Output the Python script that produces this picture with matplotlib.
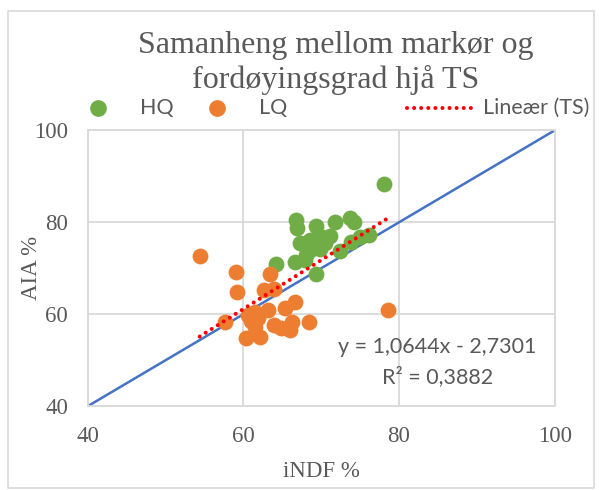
import matplotlib
matplotlib.use("Agg")
import matplotlib.pyplot as plt
import numpy as np
from matplotlib.lines import Line2D
from matplotlib.patches import Rectangle

# HQ samples (iNDF %, AIA %)
hq_x = [78.1, 64.2, 66.8, 66.9, 69.3, 71.8, 73.7, 74.2, 67.3, 68.6, 69.9, 71.1,
        68.6, 69.9, 66.6, 67.9, 69.4, 72.4, 73.9, 75.0, 76.1, 70.5, 68.0]
hq_y = [88.3, 70.9, 80.4, 78.8, 79.3, 80.1, 81.0, 80.0, 75.4, 76.2, 77.0, 77.0,
        74.0, 74.2, 71.4, 71.8, 68.8, 73.8, 75.8, 76.9, 77.2, 75.5, 73.0]

# LQ samples
lq_x = [54.4, 59.1, 59.2, 57.6, 63.4, 62.6, 63.9, 60.6, 61.5, 61.9, 63.2, 65.4,
        66.6, 63.9, 64.9, 66.0, 66.2, 68.4, 60.4, 62.1, 61.5, 78.6, 61.0]
lq_y = [72.7, 69.3, 64.9, 58.4, 68.7, 65.3, 65.6, 59.8, 60.5, 59.1, 60.9, 61.3,
        62.7, 57.7, 57.0, 56.6, 58.4, 58.4, 54.8, 55.1, 57.3, 60.9, 58.5]

# linear trend (TS) as reported
slope = 1.0644
intercept = -2.7301
r2 = 0.3882

green = "#70AD47"
orange = "#ED7D31"
red = "#FF0000"
grey_txt = "#595959"
dots = (0, (0.01, 1.75))

fig = plt.figure(figsize=(5.99, 4.90), dpi=100)
ax = fig.add_axes([0.1462, 0.1708, 0.7798, 0.5632])

# chart border
fig.patches.append(Rectangle((8 / 599, 2 / 490), 586 / 599, 477 / 490,
                             transform=fig.transFigure, fill=False,
                             edgecolor="#D9D9D9", linewidth=1.2))

ax.set_xlim(40, 100)
ax.set_ylim(40, 100)
ax.set_xticks([40, 60, 80, 100])
ax.set_yticks([40, 60, 80, 100])
ax.grid(True, color="#D9D9D9", linewidth=1.3)
ax.set_axisbelow(True)
for s in ax.spines.values():
    s.set_color("#D9D9D9")
    s.set_linewidth(1.3)
ax.tick_params(length=0, labelsize=16.5, labelcolor=grey_txt)
ax.tick_params(axis="x", pad=14)
ax.tick_params(axis="y", pad=14)
for lab in ax.get_xticklabels() + ax.get_yticklabels():
    lab.set_fontfamily("Liberation Serif")

# 1:1 line
ax.plot([40, 100], [40, 100], color="#4472C4", linewidth=1.8, zorder=2)

ax.scatter(hq_x, hq_y, s=130, color=green, zorder=3, linewidths=0)
ax.scatter(lq_x, lq_y, s=130, color=orange, zorder=3, linewidths=0)

all_x = np.array(hq_x + lq_x)
tx = np.array([all_x.min(), all_x.max()])
ax.plot(tx, slope * tx + intercept, color=red, linestyle=dots,
        linewidth=2.9, dash_capstyle="round", zorder=4)

ax.text(84.9, 52.9, "y = 1,0644x - 2,7301", fontsize=15.5, color=grey_txt,
        family="Lato", ha="center", va="center")
ax.text(84.9, 46.4, "R² = 0,3882", fontsize=15.5, color=grey_txt,
        family="Lato", ha="center", va="center")

ax.set_xlabel("iNDF %", fontsize=16.5, color=grey_txt, family="Liberation Serif", labelpad=10)
ax.set_ylabel("AIA %", fontsize=16.5, color=grey_txt, family="Liberation Serif", labelpad=-6)

fig.text(0.560, 1 - 53 / 490, "Samanheng mellom markør og", fontsize=23, color=grey_txt,
         family="Liberation Serif", ha="center", va="baseline")
fig.text(0.560, 1 - 88 / 490, "fordøyingsgrad hjå TS", fontsize=23, color=grey_txt,
         family="Liberation Serif", ha="center", va="baseline")

# legend, laid out like the original
ly = 1 - 108 / 490
fig.add_artist(Line2D([98 / 599], [ly], marker="o", markersize=11, color=green,
                      linestyle="none", transform=fig.transFigure))
fig.text(140 / 599, ly, "HQ", fontsize=15.5, color=grey_txt, family="Lato", va="center")
fig.add_artist(Line2D([217 / 599], [ly], marker="o", markersize=11, color=orange,
                      linestyle="none", transform=fig.transFigure))
fig.text(259 / 599, ly, "LQ", fontsize=15.5, color=grey_txt, family="Lato", va="center")
fig.add_artist(Line2D([407 / 599, 475 / 599], [ly, ly], color=red, linestyle=dots,
                      linewidth=2.9, dash_capstyle="round", transform=fig.transFigure))
fig.text(483 / 599, ly, "Lineær (TS)", fontsize=15.5, color=grey_txt, family="Lato", va="center")

fig.savefig("out.png", dpi=100)
